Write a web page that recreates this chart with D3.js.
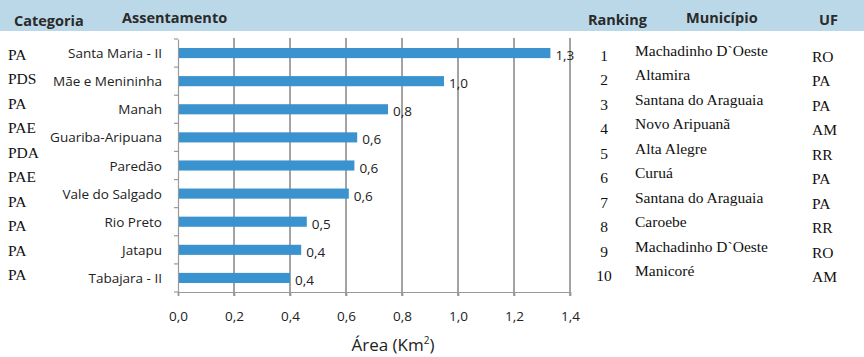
<!DOCTYPE html>
<html><head><meta charset="utf-8">
<script src="https://cdn.jsdelivr.net/npm/d3@7"></script>
<style>body{margin:0;background:#fff}svg{display:block}</style>
</head><body>
<svg id="c" width="864" height="357"></svg>
<script>
const assentamentos = ["Santa Maria - II","Mãe e Menininha","Manah","Guariba-Aripuana","Paredão","Vale do Salgado","Rio Preto","Jatapu","Tabajara - II"];
const areas = [1.33,0.95,0.75,0.64,0.63,0.61,0.46,0.44,0.40];
const areaLabels = ["1,3","1,0","0,8","0,6","0,6","0,6","0,5","0,4","0,4"];
const categorias = ["PA","PDS","PA","PAE","PDA","PAE","PA","PA","PA","PA"];
const ranking = ["1","2","3","4","5","6","7","8","9","10"];
const municipios = ["Machadinho D`Oeste","Altamira","Santana do Araguaia","Novo Aripuanã","Alta Alegre","Curuá","Santana do Araguaia","Caroebe","Machadinho D`Oeste","Manicoré"];
const ufs = ["RO","PA","PA","AM","RR","PA","PA","RR","RO","AM"];
const xTicks = [0,0.2,0.4,0.6,0.8,1.0,1.2,1.4];
const headers = ["Categoria","Assentamento","Ranking","Município","UF"];

const svg = d3.select("#c");
const sans = "'Open Sans', Lato, sans-serif";
const serif = "'Liberation Serif', 'DejaVu Serif', serif";

// header band
svg.append("rect").attr("x",0).attr("y",0).attr("width",864).attr("height",31).attr("fill","#bad8e8");
const hx = [14,122,588,686,819], hy = [26,23,25,23,25];
svg.selectAll("text.h").data(headers).enter().append("text")
  .attr("x",(d,i)=>hx[i]).attr("y",(d,i)=>hy[i])
  .attr("font-family",sans).attr("font-weight","bold").attr("font-size",14.5)
  .attr("fill","#2a2a2a").text(d=>d);

const x = d3.scaleLinear().domain([0,1.4]).range([178,570]);
const y = d3.scaleBand().domain(assentamentos).range([39,292]).paddingInner(0.64).paddingOuter(0.32);

// gridlines
svg.append("g").selectAll("line").data(xTicks.slice(1)).enter().append("line")
  .attr("x1",d=>x(d)).attr("x2",d=>x(d)).attr("y1",38).attr("y2",296)
  .attr("stroke","#999").attr("stroke-width",1.8);

// x axis
const xa = svg.append("g").attr("transform","translate(0,292)")
  .call(d3.axisBottom(x).tickValues(xTicks).tickSize(4).tickSizeOuter(0).tickFormat(d=>d3.format(".1f")(d).replace(".",",")));
xa.select(".domain").attr("stroke","#999").attr("stroke-width",1.2);
xa.selectAll(".tick line").attr("stroke","#999").attr("stroke-width",1.8);
xa.selectAll(".tick text").attr("font-family",sans).attr("font-size",13.5).attr("fill","#222").attr("dy","1.6em");

// y axis
const ya = svg.append("g").attr("transform","translate(178,0)")
  .call(d3.axisLeft(y).tickSize(0).tickFormat(""));
ya.select(".domain").attr("stroke","#999").attr("stroke-width",1.2);
const bounds = d3.range(assentamentos.length+1).map(i=>39+i*y.step());
svg.append("g").selectAll("line").data(bounds).enter().append("line")
  .attr("x1",174).attr("x2",178).attr("y1",d=>d).attr("y2",d=>d).attr("stroke","#999").attr("stroke-width",1.2);

// bars
svg.append("g").selectAll("rect").data(areas).enter().append("rect")
  .attr("x",x(0)+1).attr("y",(d,i)=>y(assentamentos[i]))
  .attr("width",d=>x(d)-x(0)-1).attr("height",y.bandwidth()).attr("fill","#3a93cf");

// value labels
svg.append("g").selectAll("text").data(areas).enter().append("text")
  .attr("x",d=>x(d)+5).attr("y",(d,i)=>y(assentamentos[i])+y.bandwidth()/2+7)
  .attr("font-family",sans).attr("font-size",13.5).attr("fill","#222").text((d,i)=>areaLabels[i]);

// assentamento labels
svg.append("g").selectAll("text").data(assentamentos).enter().append("text")
  .attr("x",162).attr("y",d=>y(d)+y.bandwidth()/2+5).attr("text-anchor","end")
  .attr("font-family",sans).attr("font-size",13.5).attr("fill","#222").text(d=>d);

// categoria column
const yc = d3.scalePoint().domain(d3.range(categorias.length)).range([55,275]);
svg.append("g").selectAll("text").data(categorias).enter().append("text")
  .attr("x",8).attr("y",(d,i)=>yc(i)+5).attr("font-family",serif).attr("font-size",15.5).attr("fill","#111").text(d=>d);

// ranking table
const yr = d3.scalePoint().domain(d3.range(ranking.length)).range([55,275]);
svg.append("g").selectAll("text").data(ranking).enter().append("text")
  .attr("x",604).attr("y",(d,i)=>yr(i)+6).attr("text-anchor","middle")
  .attr("font-family",serif).attr("font-size",15.5).attr("fill","#111").text(d=>d);
svg.append("g").selectAll("text").data(municipios).enter().append("text")
  .attr("x",635).attr("y",(d,i)=>yr(i)+1).attr("font-family",serif).attr("font-size",15.5).attr("fill","#111").text(d=>d);
svg.append("g").selectAll("text").data(ufs).enter().append("text")
  .attr("x",812).attr("y",(d,i)=>yr(i)+7).attr("font-family",serif).attr("font-size",15.5).attr("fill","#111").text(d=>d);

// axis title
const t = svg.append("text").attr("x",393).attr("y",351).attr("text-anchor","middle")
  .attr("font-family",sans).attr("font-size",17).attr("fill","#222");
t.append("tspan").text("Área (Km");
t.append("tspan").attr("font-size",10).attr("dy",-7).text("2");
t.append("tspan").attr("dy",7).text(")");
</script>
</body></html>
